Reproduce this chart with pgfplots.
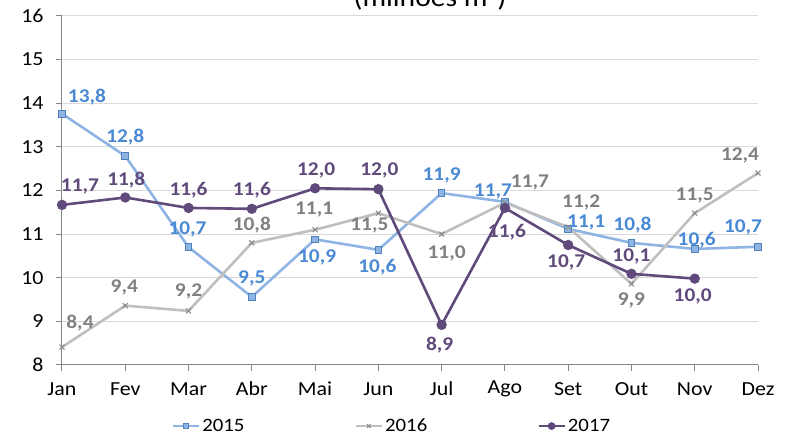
\documentclass[border=0pt]{standalone}
\usepackage{pgfplots}
\usepackage{pgfplotstable}
\pgfplotsset{compat=1.18}
\usepackage{fontspec}
\setmainfont{Carlito}[FakeStretch=1.1]
\definecolor{lineA}{RGB}{142,180,227}
\definecolor{markA}{RGB}{79,129,189}
\definecolor{textA}{RGB}{74,137,212}
\definecolor{lineB}{RGB}{191,191,191}
\definecolor{markB}{RGB}{140,140,140}
\definecolor{textB}{RGB}{128,128,128}
\definecolor{lineC}{RGB}{96,74,123}
\definecolor{textC}{RGB}{96,74,123}
\definecolor{axisgray}{RGB}{134,134,134}
\definecolor{gridgray}{RGB}{217,217,217}

\pgfplotstableread{
x y lab dx dy
0 13.76 13,8 25 17
1 12.79 12,8 0 19
2 10.70 10,7 -1 18
3 9.56 9,5 0 18
4 10.88 10,9 2 -18
5 10.64 10,6 -1 -17
6 11.94 11,9 0 18
7 11.74 11,7 -12 10
8 11.12 11,1 18 6
9 10.80 10,8 1 18
10 10.66 10,6 2 9
11 10.71 10,7 -15 19
}\dataA
\pgfplotstableread{
x y lab dx dy
0 8.41 8,4 18 24
1 9.36 9,4 -1 18
2 9.24 9,2 0 19
3 10.80 10,8 0 18
4 11.10 11,1 -1 20
5 11.48 11,5 -9 -12
6 11.00 11,0 5 -19
7 11.72 11,7 25 20
8 11.16 11,2 13 25
9 9.86 9,9 0 -17
10 11.48 11,5 0 18
11 12.40 12,4 -18 18
}\dataB
\pgfplotstableread{
x y lab dx dy
0 11.67 11,7 18 18
1 11.84 11,8 1 17
2 11.60 11,6 0 18
3 11.58 11,6 0 19
4 12.05 12,0 1 18
5 12.03 12,0 1 19
6 8.92 8,9 -2 -20
7 11.60 11,6 2 -24
8 10.75 10,7 -2 -17
9 10.09 10,1 0 17
10 9.98 10,0 -2 -18
}\dataC

\begin{document}
\begin{tikzpicture}[x=1bp,y=1bp]
\begin{axis}[
  at={(0,0)}, anchor=south west,
  scale only axis, width=696bp, height=349bp,
  xmin=0, xmax=11, ymin=8, ymax=16,
  xtick={0,...,11},
  xticklabels={Jan,Fev,Mar,Abr,Mai,Jun,Jul,Ago,Set,Out,Nov,Dez},
  ytick={8,...,16},
  axis x line*=bottom, axis y line*=left,
  axis line style={draw=axisgray, line width=1bp, -},
  tick style={draw=axisgray, line width=1bp},
  tick align=outside, major tick length=6bp,
  /pgf/number format/assume math mode=true,
  xticklabel style={font=\fontsize{20}{20}\selectfont, text=black, anchor=center, yshift=-6bp},
  yticklabel style={font=\fontsize{20}{20}\selectfont, text=black, anchor=east},
  xticklabel shift=12bp,
  yticklabel shift=9bp,
  ymajorgrids, grid style={draw=gridgray, line width=1bp},
  clip=false,
  point meta=explicit symbolic,
  nodes near coords={\pgfplotspointmeta},
  visualization depends on={\thisrow{dx}\as\labdx},
  visualization depends on={\thisrow{dy}\as\labdy},
  every node near coord/.style={anchor=center, xshift=\labdx bp, yshift=\labdy bp,
     font=\fontsize{19.5}{19.5}\selectfont\bfseries},
  legend columns=3,
  legend style={at={(0.474,-0.175)}, anchor=center, draw=none, fill=none,
     font=\fontsize{19}{19}\selectfont, inner sep=1bp,
     /tikz/every even column/.append style={column sep=108bp}},
  legend cell align=left,
  legend image code/.code={\draw[#1, mark repeat=2, mark phase=2, mark size=2.5bp] plot coordinates {(0bp,0bp) (13bp,0bp) (26bp,0bp)};},
]
\addplot[lineA, line width=2.6bp, mark=square*, mark size=3.3bp,
  mark options={fill=lineA, draw=markA, line width=1bp},
  every node near coord/.append style={text=textA}]
  table[x=x, y=y, meta=lab] {\dataA};
\addlegendentry{2015}
\addplot[lineB, line width=2.6bp, mark=x, mark size=3.5bp,
  mark options={draw=markB, line width=1.1bp},
  every node near coord/.append style={text=textB}]
  table[x=x, y=y, meta=lab] {\dataB};
\addlegendentry{2016}
\addplot[lineC, line width=2.6bp, mark=*, mark size=3.8bp,
  mark options={fill=lineC, draw=lineC},
  every node near coord/.append style={text=textC}]
  table[x=x, y=y, meta=lab] {\dataC};
\addlegendentry{2017}
\end{axis}
\node[anchor=base, font=\fontsize{27}{27}\selectfont] at (368,358) {(milhões m³)};
\pgfresetboundingbox
\useasboundingbox (-62,-72) rectangle (730,365);
\end{tikzpicture}
\end{document}
